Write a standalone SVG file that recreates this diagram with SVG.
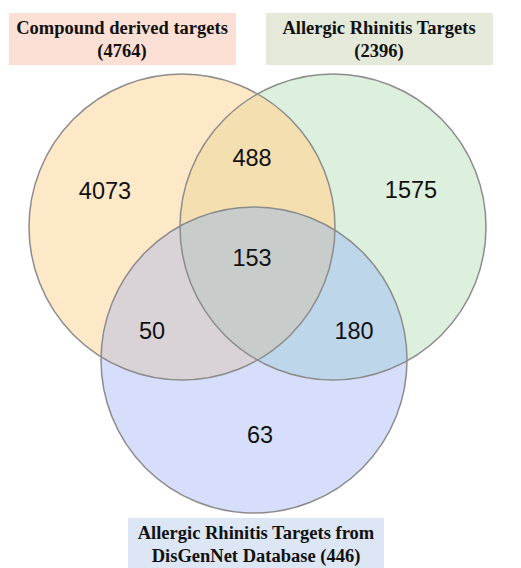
<svg xmlns="http://www.w3.org/2000/svg" width="521" height="568" viewBox="0 0 521 568">
<defs>
<style>
.lbl{font-family:"Liberation Serif","Times New Roman",serif;font-weight:bold;font-size:18.5px;fill:#111;text-anchor:middle}
.num{font-family:"Liberation Sans",Arial,sans-serif;font-size:23.5px;fill:#111;text-anchor:middle}
.ring{fill:none;stroke:#8c8c8c;stroke-width:1.5}
</style>
<clipPath id="cA"><circle cx="182" cy="227" r="153"/></clipPath>
<clipPath id="cB"><circle cx="333" cy="227" r="153"/></clipPath>
<clipPath id="cAB" clip-path="url(#cA)"><circle cx="333" cy="227" r="153"/></clipPath>
</defs>
<rect width="521" height="568" fill="#ffffff"/>
<g id="regions">
<circle cx="182" cy="227" r="153" fill="#FDE8C8"/>
<circle cx="333" cy="227" r="153" fill="#DDEFDD"/>
<circle cx="333" cy="227" r="153" fill="#F3DFB0" clip-path="url(#cA)"/>
<circle cx="254" cy="360" r="153" fill="#D6DEFB"/>
<circle cx="254" cy="360" r="153" fill="#D9D2D6" clip-path="url(#cA)"/>
<circle cx="254" cy="360" r="153" fill="#BDD6EA" clip-path="url(#cB)"/>
<circle cx="254" cy="360" r="153" fill="#C8CCCB" clip-path="url(#cAB)"/>
</g>
<g id="set-compound">
<circle class="ring" cx="182" cy="227" r="153"/>
</g>
<g id="set-rhinitis">
<circle class="ring" cx="333" cy="227" r="153"/>
</g>
<g id="set-disgenet">
<circle class="ring" cx="254" cy="360" r="153"/>
</g>
<g id="counts">
<text class="num" x="105" y="199">4073</text>
<text class="num" x="252" y="166">488</text>
<text class="num" x="411" y="198">1575</text>
<text class="num" x="252" y="266">153</text>
<text class="num" x="152" y="339">50</text>
<text class="num" x="354" y="339">180</text>
<text class="num" x="260" y="443">63</text>
</g>
<g id="label-compound">
<rect x="9" y="13" width="227" height="52" fill="#FCE0D6"/>
<text class="lbl" x="122" y="34">Compound derived targets</text>
<text class="lbl" x="122" y="57">(4764)</text>
</g>
<g id="label-rhinitis">
<rect x="266" y="13" width="227" height="52" fill="#E4E9DA"/>
<text class="lbl" x="379" y="34">Allergic Rhinitis Targets</text>
<text class="lbl" x="379" y="57">(2396)</text>
</g>
<g id="label-disgenet">
<rect x="128" y="518" width="256" height="50" fill="#DCE6F5"/>
<text class="lbl" x="256" y="539">Allergic Rhinitis Targets from</text>
<text class="lbl" x="256" y="562">DisGenNet Database (446)</text>
</g>
<g id="connectors"></g>
</svg>
